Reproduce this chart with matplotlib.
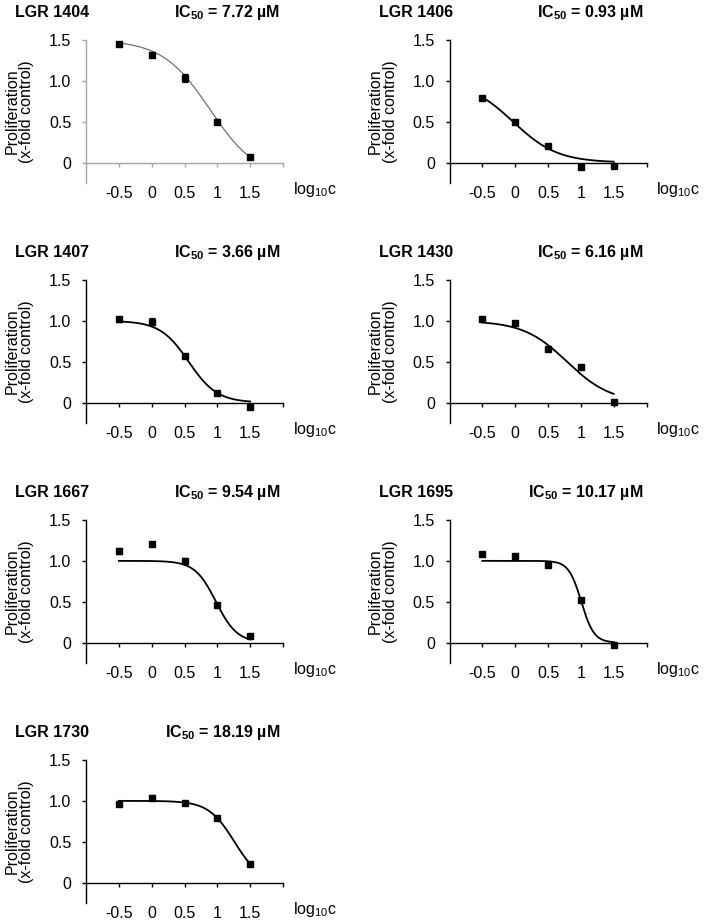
import numpy as np
import matplotlib
matplotlib.use('Agg')
import matplotlib.pyplot as plt

plt.rcParams['font.family'] = ['Liberation Sans', 'DejaVu Sans']
plt.rcParams['mathtext.fontset'] = 'custom'
plt.rcParams['mathtext.rm'] = 'Liberation Sans'
plt.rcParams['mathtext.bf'] = 'Liberation Sans:bold'

# concentrations (log10 c, uM)
log_c = [-0.5, 0, 0.5, 1, 1.5]

compounds = ['LGR 1404', 'LGR 1406', 'LGR 1407', 'LGR 1430',
             'LGR 1667', 'LGR 1695', 'LGR 1730']
ic50 = [7.72, 0.93, 3.66, 6.16, 9.54, 10.17, 18.19]

prolif_1404 = [1.45, 1.32, 1.03, 0.50, 0.07]
prolif_1406 = [0.79, 0.50, 0.20, -0.06, -0.04]
prolif_1407 = [1.02, 0.99, 0.57, 0.12, -0.06]
prolif_1430 = [1.02, 0.97, 0.65, 0.43, 0.01]
prolif_1667 = [1.12, 1.21, 1.00, 0.46, 0.08]
prolif_1695 = [1.08, 1.06, 0.95, 0.52, -0.03]
prolif_1730 = [0.96, 1.04, 0.97, 0.79, 0.23]

err_1404 = [0.02, 0.03, 0.05, 0.03, 0.01]
err_1406 = [0.02, 0.01, 0.01, 0.01, 0.01]
err_1407 = [0.03, 0.04, 0.01, 0.01, 0.01]
err_1430 = [0.01, 0.02, 0.01, 0.01, 0.01]
err_1667 = [0.04, 0.01, 0.03, 0.01, 0.01]
err_1695 = [0.01, 0.01, 0.01, 0.01, 0.01]
err_1730 = [0.01, 0.03, 0.01, 0.01, 0.01]

prolif = [prolif_1404, prolif_1406, prolif_1407, prolif_1430,
          prolif_1667, prolif_1695, prolif_1730]
errors = [err_1404, err_1406, err_1407, err_1430,
          err_1667, err_1695, err_1730]

# four-parameter logistic fit parameters (midpoint = log10 IC50)
fit_top = [1.5, 1.0, 1.0, 1.0, 1.0, 1.0, 1.0]
fit_bottom = [-0.2, 0.0, 0.0, 0.0, 0.0, 0.0, 0.0]
fit_hill = [1.2, 1.28, 2.0, 1.3, 2.7, 4.5, 2.2]

y_ticks = [0, 0.5, 1.0, 1.5]
y_tick_labels = ['0', '0.5', '1.0', '1.5']
x_tick_labels = ['-0.5', '0', '0.5', '1', '1.5']

W, H = 706, 923
fig = plt.figure(figsize=(W / 100, H / 100), dpi=100)

col_left = [86, 449.5]
ax_w, ax_h = 197, 143
row_top = [40, 280, 520, 760]

for i, name in enumerate(compounds):
    r, c = divmod(i, 2)
    ax = fig.add_axes([col_left[c] / W, 1 - (row_top[r] + ax_h) / H,
                       ax_w / W, ax_h / H])
    axis_col = '#a6a6a6' if i == 0 else 'black'
    curve_col = '#707070' if i == 0 else 'black'
    curve_lw = 0.9 if i == 0 else 1.3

    xs = np.linspace(log_c[0], log_c[-1], 200)
    mid = np.log10(ic50[i])
    ys = fit_bottom[i] + (fit_top[i] - fit_bottom[i]) / (1 + 10 ** ((xs - mid) * fit_hill[i]))
    ax.plot(xs, ys, color=curve_col, lw=curve_lw, zorder=2)
    ax.errorbar(log_c, prolif[i], yerr=errors[i], fmt='s', color='black',
                ms=4.3, elinewidth=0.9, capsize=2.2, capthick=0.9, zorder=3)

    ax.set_xlim(-1, 2)
    ax.set_ylim(-0.25, 1.5)
    for s in ['top', 'right']:
        ax.spines[s].set_visible(False)
    ax.spines['bottom'].set_position(('data', 0))
    for s in ['left', 'bottom']:
        ax.spines[s].set_color(axis_col)
        ax.spines[s].set_linewidth(1.0)

    ax.set_yticks(y_ticks)
    ax.set_yticklabels(y_tick_labels)
    ax.set_xticks(log_c)
    ax.set_xticklabels(x_tick_labels)
    ax.set_xticks([2.0], minor=True)
    ax.tick_params(axis='y', direction='out', length=3, width=1.0,
                   color=axis_col, labelsize=11.5, pad=7.5)
    ax.tick_params(axis='x', which='both', direction='out', length=3, width=1.0,
                   color=axis_col, labelsize=11.5, pad=14)

    ax.set_ylabel('Proliferation\n(x-fold control)', fontsize=11.5,
                  linespacing=1.0)
    ax.yaxis.set_label_coords(-0.262, 0.5)

    ax.text(1.05, -0.33, r'log$_{10}$c', transform=ax.get_yaxis_transform(),
            fontsize=11.5, ha='left', va='center')
    ax.text(-0.36, 1.16, name, transform=ax.transAxes, fontsize=11.5,
            fontweight='bold', ha='left', va='baseline')
    ax.text(0.985, 1.16, r'IC$_{\mathbf{50}}$ = %.2f µM' % ic50[i],
            transform=ax.transAxes, fontsize=11.5, fontweight='bold',
            ha='right', va='baseline')

fig.savefig('out.png', dpi=100)
